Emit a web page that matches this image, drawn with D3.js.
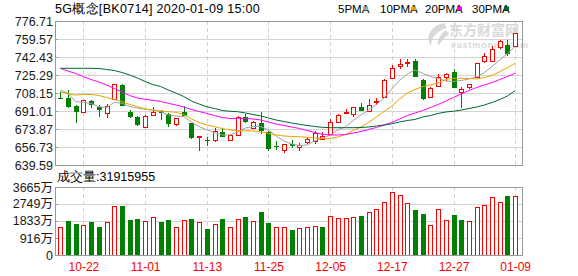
<!DOCTYPE html>
<html><head><meta charset="utf-8">
<script src="https://cdn.jsdelivr.net/npm/d3@7"></script>
<style>
body{margin:0;background:#fff;}
svg{display:block;font-family:"Liberation Sans",Arial,sans-serif;}
</style></head><body>
<svg id="c" width="578" height="276"></svg>
<script>
const dates=["10-17","10-18","10-21","10-22","10-23","10-24","10-25","10-28","10-29","10-30","10-31","11-01","11-04","11-05","11-06","11-07","11-08","11-11","11-12","11-13","11-14","11-15","11-18","11-19","11-20","11-21","11-22","11-25","11-26","11-27","11-28","11-29","12-02","12-03","12-04","12-05","12-06","12-09","12-10","12-11","12-12","12-13","12-16","12-17","12-18","12-19","12-20","12-23","12-24","12-25","12-26","12-27","12-30","12-31","01-02","01-03","01-06","01-07","01-08","01-09"];
const open=[703.68,703.68,695.77,690.35,700.53,694.54,689.39,702.15,715.77,689.77,685.30,675.49,687.87,691.30,687.87,678.35,690.06,679.30,666.25,663.87,662.45,671.02,663.40,667.87,685.11,675.49,679.87,670.73,657.68,653.88,659.59,657.21,661.78,661.78,665.02,669.78,680.82,689.58,688.16,694.54,691.30,700.34,704.63,722.15,733.58,736.72,738.91,720.53,704.63,714.15,723.10,728.44,708.82,713.20,722.72,738.91,738.62,752.24,753.86,752.24];
const close=[703.11,695.11,690.35,701.49,696.73,691.30,695.77,716.44,696.06,684.63,677.68,686.25,690.35,689.39,678.63,684.06,686.54,665.30,666.73,663.40,671.49,666.25,668.16,685.01,680.54,680.82,671.97,654.83,657.21,659.30,658.16,658.83,664.35,669.59,667.49,680.82,687.20,690.06,694.54,691.01,696.73,700.82,720.53,731.67,735.77,737.20,723.67,702.44,713.20,723.10,726.24,713.20,711.96,716.44,736.43,743.39,749.76,757.95,745.29,765.00];
const high=[708.82,711.01,696.25,701.96,701.20,696.73,697.39,716.91,716.25,691.96,685.78,687.20,695.11,691.77,689.39,684.54,695.30,679.78,667.21,666.54,674.54,674.82,668.63,686.25,688.16,681.49,690.06,671.49,662.45,659.59,662.92,660.83,666.54,671.49,671.30,683.39,687.68,692.63,695.01,698.92,702.15,703.11,721.01,734.81,740.24,740.24,741.00,721.01,713.68,726.24,726.72,731.01,714.15,716.91,736.91,746.53,752.91,758.43,758.62,765.48];
const low=[702.15,693.58,679.87,690.06,694.15,685.01,684.06,701.68,695.77,684.06,676.73,675.02,687.39,682.44,675.49,677.01,686.06,664.06,653.21,657.97,661.21,665.78,662.92,667.40,679.30,675.02,669.11,653.11,653.88,651.49,656.07,652.92,659.30,659.30,664.35,669.30,680.35,687.87,685.01,690.54,690.82,696.73,704.15,721.67,731.29,733.20,723.20,701.96,704.15,713.68,719.86,712.72,694.15,711.96,722.25,736.43,738.15,749.76,743.39,751.76];
const ma5=[711.01,707.87,699.87,699.30,698.15,695.11,694.15,699.30,698.34,695.30,693.87,692.63,691.96,690.54,687.20,686.25,685.78,680.54,676.25,672.92,670.54,668.16,668.16,671.02,674.82,676.25,676.25,672.92,667.21,662.45,659.59,658.16,658.64,662.45,665.30,668.16,672.92,676.06,681.97,687.20,691.96,697.20,703.39,711.96,720.06,726.24,730.05,726.91,723.86,722.15,719.58,719.10,720.06,721.48,723.67,727.67,733.39,739.58,745.77,752.24];
const ma10=[709.58,707.20,706.25,706.72,706.72,705.77,703.87,701.96,700.06,697.20,695.30,692.92,691.96,691.01,690.35,689.77,687.68,683.39,680.06,677.68,676.06,674.35,672.92,672.25,672.16,671.97,671.02,669.78,668.16,667.21,666.73,666.54,665.97,665.30,664.83,664.83,666.25,668.63,672.44,675.78,680.06,685.30,690.54,695.77,702.44,708.15,711.49,714.15,715.77,717.67,721.01,722.15,722.15,721.96,721.48,722.91,724.82,728.44,732.43,736.43];
const ma20=[731.67,729.10,726.72,723.67,721.01,718.63,715.77,712.44,709.10,705.77,703.39,702.15,701.20,700.06,698.34,696.73,694.82,692.44,690.54,688.63,686.73,684.82,683.87,684.06,683.87,683.39,682.44,680.54,678.63,677.21,675.78,674.35,672.44,670.54,668.83,668.16,668.16,668.63,670.06,671.49,673.40,675.30,677.68,680.06,683.39,686.73,689.11,691.49,694.35,697.20,700.53,703.87,707.20,710.53,713.39,715.77,718.15,721.01,723.86,726.91];
const ma30=[731.67,731.67,731.67,731.67,731.67,731.48,730.53,729.58,727.67,725.29,722.44,719.10,716.25,714.34,711.01,708.15,704.82,700.53,697.68,695.11,693.39,691.49,690.73,690.35,689.11,687.68,686.25,684.35,682.44,681.01,679.59,678.35,677.21,676.25,675.49,675.11,675.11,675.11,675.11,675.30,675.78,676.73,677.68,678.82,680.54,681.97,682.92,685.30,686.73,688.63,690.06,690.82,691.96,693.39,694.82,696.73,699.11,701.96,705.30,710.53];
const volume=[1491,1833,1671,1599,1779,1509,1779,2623,2641,1868,1940,1814,2030,1779,1886,1491,1868,1940,1779,1401,1671,1940,1491,1922,2048,1814,2317,1725,1491,1491,1347,1473,1527,1581,1491,2119,2012,2012,2066,2102,2336,2461,2839,3414,3216,2821,2425,2210,1599,2461,1868,2156,1886,1814,2569,2677,3108,2839,3180,3191.5955];
const priceTicks=[639.59,656.73,673.87,691.01,708.15,725.29,742.43,759.57,776.71];
const volTicks=[0,916,1833,2749,3665];
const xTickLabels=["10-22","11-01","11-13","11-25","12-05","12-17","12-27","01-09"];
const maNames=["5PMA","10PMA","20PMA","30PMA"];
const maColors=["#a0a0a0","#f0a000","#ff00ff","#006633"];
const title="5G概念[BK0714] 2020-01-09 15:00";
const volTitle="成交量:31915955";

const L=55,R=522,T=21,B=165,VT=187,VB=255;
const RED="#ff0000",GREEN="#008000",GRID="#d4d4d4",FRAME="#999";
const svg=d3.select("#c");
const x=d3.scalePoint().domain(dates).range([60.3,515.2]);
const y=d3.scaleLinear().domain([639.59,776.71]).range([B,T]);
const yv=d3.scaleLinear().domain([0,3665]).range([VB,VT]);
const idx=d3.range(dates.length);
const px=i=>Math.round(x(dates[i]))+0.5;

// title and legend
svg.append("text").attr("x",55).attr("y",13).attr("font-size",12.5).attr("letter-spacing",0.3).attr("fill","#000").text(title);
const legX=[338,380,425,472], sqX=[363,411,457,504];
maNames.forEach((n,k)=>{
  svg.append("text").attr("x",legX[k]).attr("y",13).attr("font-size",11.5).attr("fill","#000").text(n);
  svg.append("rect").attr("x",sqX[k]).attr("y",6.5).attr("width",5).attr("height",4).attr("fill",maColors[k]);
});

// watermark
const wm=svg.append("g").attr("fill","#d9d9d9");
wm.append("path").attr("d","M444,23 C430,26 425,38 431,46 C431,38 436,31 447,28 Z M446,30 C440,34 437,40 438,46 C442,40 446,36 449,34 Z");
wm.append("text").attr("x",449).attr("y",35).attr("font-size",14).attr("font-weight","bold").attr("font-family","Noto Sans CJK SC").text("东方财富网");
wm.append("text").attr("x",451).attr("y",48).attr("font-size",9).attr("font-weight","bold").attr("letter-spacing",0.8).text("eastmoney.com");

// grids
const grid=svg.append("g").attr("shape-rendering","crispEdges");
grid.selectAll("line.h").data(priceTicks.slice(1,-1)).join("line")
  .attr("x1",L).attr("x2",R).attr("y1",d=>Math.round(y(d))+0.5).attr("y2",d=>Math.round(y(d))+0.5)
  .attr("stroke",GRID);
grid.selectAll("line.vh").data(volTicks.slice(1,-1)).join("line")
  .attr("x1",L).attr("x2",R).attr("y1",d=>Math.round(yv(d))+0.5).attr("y2",d=>Math.round(yv(d))+0.5)
  .attr("stroke",GRID);
[[T,B],[VT,VB]].forEach(([a,b])=>{
  grid.append("g").selectAll("line").data(xTickLabels).join("line")
    .attr("x1",d=>Math.round(x(d))+0.5).attr("x2",d=>Math.round(x(d))+0.5)
    .attr("y1",a).attr("y2",b).attr("stroke",GRID).attr("stroke-dasharray","4,3");
});

// axes labels
const yAx=svg.append("g").attr("transform",`translate(${L-2},0)`)
  .call(d3.axisLeft(y).tickValues(priceTicks).tickFormat(d3.format(".2f")).tickSize(0).tickPadding(0));
yAx.select(".domain").remove();
yAx.selectAll("text").attr("font-size",12.5).attr("fill","#1a1a1a").attr("font-family","Liberation Sans, Arial");
const yTk=svg.append("g").attr("transform",`translate(${L},0)`).attr("shape-rendering","crispEdges")
  .call(d3.axisRight(y).tickValues(priceTicks).tickSize(3).tickFormat(""));
yTk.select(".domain").remove(); yTk.selectAll("line").attr("stroke",FRAME);

const vAx=svg.append("g").attr("transform",`translate(${L-2},0)`)
  .call(d3.axisLeft(yv).tickValues(volTicks).tickFormat(d=>d===0?"0":d+"万").tickSize(0).tickPadding(0));
vAx.select(".domain").remove();
vAx.selectAll("text").attr("font-size",12.5).attr("fill","#1a1a1a").attr("font-family","Liberation Sans, Noto Sans CJK SC");
const vTk=svg.append("g").attr("transform",`translate(${L},0)`).attr("shape-rendering","crispEdges")
  .call(d3.axisRight(yv).tickValues(volTicks).tickSize(3).tickFormat(""));
vTk.select(".domain").remove(); vTk.selectAll("line").attr("stroke",FRAME);

const xAx=svg.append("g").attr("transform",`translate(0,${VB})`)
  .call(d3.axisBottom(x).tickValues(xTickLabels).tickSize(0).tickPadding(7));
xAx.select(".domain").remove();
xAx.selectAll("text").attr("font-size",12).attr("fill",RED).attr("font-family","Liberation Sans, Arial");

svg.append("text").attr("x",57).attr("y",181).attr("font-size",12.5).attr("fill","#000").text(volTitle);

// candles
const cg=svg.append("g").attr("shape-rendering","crispEdges");
const up=i=>close[i]>=open[i];
cg.selectAll("line.w").data(idx).join("line")
  .attr("x1",px).attr("x2",px).attr("y1",i=>y(high[i])).attr("y2",i=>y(low[i]))
  .attr("stroke",i=>up(i)?RED:GREEN);
cg.selectAll("rect.b").data(idx).join("rect")
  .attr("x",i=>up(i)?px(i)-2:px(i)-2.5)
  .attr("width",i=>up(i)?4:5)
  .attr("y",i=>{const t=Math.round(y(Math.max(open[i],close[i])));return up(i)?t+0.5:t;})
  .attr("height",i=>Math.max(1,Math.round(Math.abs(y(open[i])-y(close[i])))))
  .attr("fill",i=>up(i)?"#fff":GREEN)
  .attr("stroke",i=>up(i)?RED:"none");

// MA lines
[ma5,ma10,ma20,ma30].forEach((arr,k)=>{
  svg.append("path").datum(arr)
    .attr("d",d3.line().x((d,i)=>x(dates[i])).y(d=>y(d)))
    .attr("fill","none").attr("stroke",maColors[k]).attr("stroke-width",1);
});

// volume bars
const vUp=i=>i===0||close[i]>=close[i-1];
const vg=svg.append("g").attr("shape-rendering","crispEdges");
vg.selectAll("rect").data(idx).join("rect")
  .attr("x",i=>vUp(i)?px(i)-2:px(i)-2.5)
  .attr("width",i=>vUp(i)?4:5)
  .attr("y",i=>{const t=Math.round(yv(volume[i]));return vUp(i)?t+0.5:t;})
  .attr("height",i=>{const t=Math.round(yv(volume[i]));return vUp(i)?VB-t-0.5:VB-t;})
  .attr("fill",i=>vUp(i)?"#fff":GREEN)
  .attr("stroke",i=>vUp(i)?RED:"none");

// frames
const fr=svg.append("g").attr("shape-rendering","crispEdges").attr("fill","none").attr("stroke",FRAME);
fr.append("rect").attr("x",L+0.5).attr("y",T+0.5).attr("width",R-L).attr("height",B-T);
fr.append("rect").attr("x",L+0.5).attr("y",VT+0.5).attr("width",R-L).attr("height",VB-VT);
</script>
</body></html>
